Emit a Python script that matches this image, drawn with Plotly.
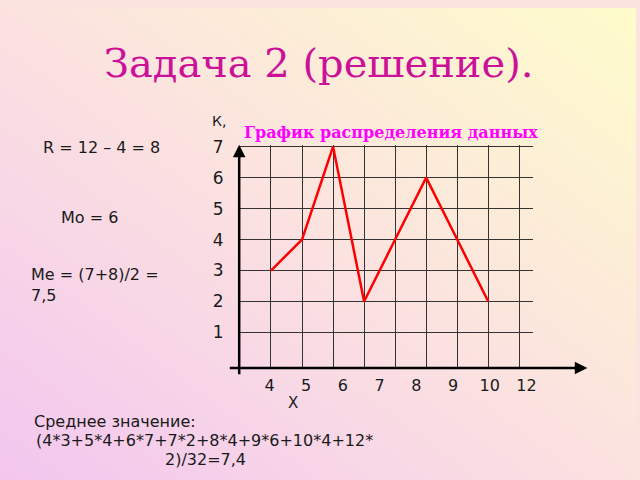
import base64

import plotly.graph_objects as go

# Data: value x -> frequency K
x_values = [4, 5, 6, 7, 8, 9, 10, 12]
frequencies = [3, 4, 7, 2, 4, 6, 4, 2]
y_ticks = [1, 2, 3, 4, 5, 6, 7]
grid_columns = [1, 2, 3, 4, 5, 6, 7, 8, 9]

W, H = 640, 480


def px(x):
    return x / W


def py(y):
    return 1 - y / H


# soft diagonal slide background
svg = (
    '<svg xmlns="http://www.w3.org/2000/svg" width="640" height="480">'
    '<defs><linearGradient id="g" x1="0" y1="1" x2="1" y2="0">'
    '<stop offset="0" stop-color="#f3c6ef"/>'
    '<stop offset="0.5" stop-color="#fbe2e0"/>'
    '<stop offset="1" stop-color="#fefccb"/>'
    '</linearGradient></defs>'
    '<rect width="640" height="480" fill="url(#g)"/></svg>'
)
bg_uri = "data:image/svg+xml;base64," + base64.b64encode(svg.encode()).decode()

fig = go.Figure()

# polygon of frequencies, one grid column per value
fig.add_trace(
    go.Scatter(
        x=[i + 1 for i in range(len(x_values))],
        y=frequencies,
        mode="lines",
        line={"color": "#ff0000", "width": 2.5},
        hoverinfo="skip",
        showlegend=False,
    )
)

# invisible trace carrying the x tick labels axis
fig.add_trace(
    go.Scatter(
        x=list(range(len(x_values))),
        y=[None] * len(x_values),
        xaxis="x2",
        mode="markers",
        hoverinfo="skip",
        showlegend=False,
    )
)

grid_color = "#333333"

fig.update_layout(
    width=W,
    height=H,
    margin={"l": 0, "r": 0, "t": 0, "b": 0},
    paper_bgcolor="#fbe4e0",
    plot_bgcolor="rgba(0,0,0,0)",
    font={"family": "DejaVu Sans", "color": "#1a1a1a"},
    images=[
        {
            "source": bg_uri,
            "xref": "paper",
            "yref": "paper",
            "x": 0,
            "y": 1,
            "sizex": 1,
            "sizey": 1,
            "sizing": "stretch",
            "layer": "below",
        }
    ],
    xaxis={
        "domain": [px(241.45), px(536)],
        "range": [0, 9.43],
        "tickvals": grid_columns,
        "showticklabels": False,
        "showgrid": True,
        "gridcolor": grid_color,
        "gridwidth": 1.3,
        "zeroline": False,
        "showline": False,
        "ticks": "",
    },
    xaxis2={
        "overlaying": "x",
        "anchor": "y",
        "side": "bottom",
        "range": [-0.805, 7.17],
        "tickvals": list(range(len(x_values))),
        "ticktext": [str(v) for v in x_values],
        "tickfont": {"size": 16, "color": "#1a1a1a"},
        "ticks": "outside",
        "ticklen": 3,
        "tickcolor": "rgba(0,0,0,0)",
        "showgrid": False,
        "zeroline": False,
        "showline": False,
    },
    yaxis={
        "domain": [py(365.9), py(139.4)],
        "range": [-0.14, 7.05],
        "tickvals": y_ticks,
        "tickfont": {"size": 17, "color": "#1a1a1a"},
        "ticks": "outside",
        "ticklen": 12,
        "tickcolor": "rgba(0,0,0,0)",
        "showgrid": True,
        "gridcolor": grid_color,
        "gridwidth": 1.3,
        "zeroline": False,
        "showline": False,
    },
)

annotations = [
    # axis arrows
    dict(x=px(591), y=py(366), xref="paper", yref="paper", text="",
         showarrow=True, ax=-359, ay=0, arrowhead=2, arrowsize=1,
         arrowwidth=2.5, arrowcolor="#000000"),
    dict(x=px(240.7), y=py(139), xref="paper", yref="paper", text="",
         showarrow=True, ax=0, ay=231, arrowhead=2, arrowsize=1,
         arrowwidth=2.5, arrowcolor="#000000"),
    # titles
    dict(x=0.5, y=py(56), xref="paper", yref="paper", text="Задача 2 (решение).",
         showarrow=False, xanchor="center", yanchor="middle",
         font={"family": "DejaVu Serif", "size": 40, "color": "#cc1199"}),
    dict(x=px(393), y=py(127), xref="paper", yref="paper",
         text="<b>График распределения данных</b>",
         showarrow=False, xanchor="center", yanchor="middle",
         font={"family": "DejaVu Serif", "size": 16, "color": "#ff00ff"}),
    dict(x=px(220), y=py(115), xref="paper", yref="paper", text="К,",
         showarrow=False, xanchor="center", yanchor="middle", font={"size": 14}),
    dict(x=px(295), y=py(402), xref="paper", yref="paper", text="X",
         showarrow=False, xanchor="center", yanchor="middle", font={"size": 15}),
    # statistics text
    dict(x=px(41), y=py(142), xref="paper", yref="paper", text="R = 12 – 4 = 8",
         showarrow=False, xanchor="left", yanchor="middle", font={"size": 16}),
    dict(x=px(59), y=py(213), xref="paper", yref="paper", text="Mo = 6",
         showarrow=False, xanchor="left", yanchor="middle", font={"size": 16}),
    dict(x=px(29), y=py(271), xref="paper", yref="paper", text="Me = (7+8)/2 =",
         showarrow=False, xanchor="left", yanchor="middle", font={"size": 16}),
    dict(x=px(29), y=py(292), xref="paper", yref="paper", text="7,5",
         showarrow=False, xanchor="left", yanchor="middle", font={"size": 16}),
    dict(x=px(32), y=py(421), xref="paper", yref="paper", text="Среднее значение:",
         showarrow=False, xanchor="left", yanchor="middle", font={"size": 16}),
    dict(x=px(34), y=py(440), xref="paper", yref="paper",
         text="(4*3+5*4+6*7+7*2+8*4+9*6+10*4+12*",
         showarrow=False, xanchor="left", yanchor="middle", font={"size": 16}),
    dict(x=px(164), y=py(459), xref="paper", yref="paper", text="2)/32=7,4",
         showarrow=False, xanchor="left", yanchor="middle", font={"size": 16}),
]
fig.update_layout(annotations=annotations)

# page margin off so the 640x480 figure fills the window
fig.write_html(
    "out.html",
    config={"displayModeBar": False},
    post_script="document.body.style.margin='0';",
)
